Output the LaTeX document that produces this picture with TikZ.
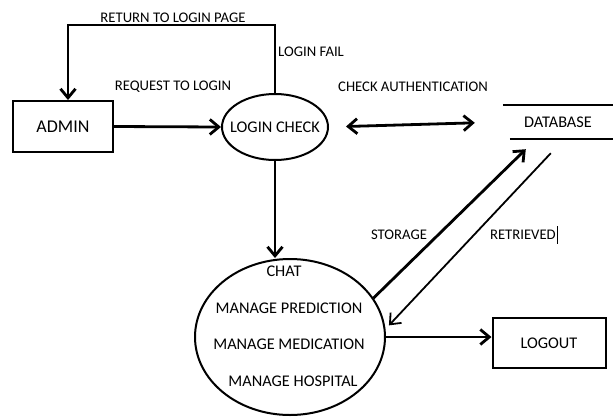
\documentclass[tikz,border=0pt]{standalone}
\usepackage{fontspec}
\setmainfont{Carlito}
\usetikzlibrary{arrows.meta,shapes.geometric}

\begin{document}
\begin{tikzpicture}[x=1pt,y=-1pt,
  >={Straight Barb[length=9pt,width=15pt]},
  box/.style={draw,line width=2pt,rectangle,inner sep=0pt},
  bubble/.style={draw,line width=2pt,ellipse,inner sep=0pt},
  flow/.style={->,line width=2.8pt},
  thinflow/.style={->,line width=1.8pt},
  tag/.style={font=\fontsize{14.7}{16}\selectfont,inner sep=0pt},
  item/.style={font=\fontsize{16.3}{18}\selectfont,inner sep=0pt}]
 \useasboundingbox (0,0) rectangle (613,416);
 % Admin, login check and the data store.
 \node (admin) [box,minimum width=100pt,minimum height=51pt,
  font=\fontsize{18}{20}\selectfont] at (63,126.5) {ADMIN};
 \node (lc) [bubble,minimum width=106pt,minimum height=66pt,
  label={[item]center:LOGIN CHECK}] at (275,127) {};
 \node (db) [item,minimum width=110pt,minimum height=34pt] at (558,122) {DATABASE};
 \draw[line width=2.2pt] (db.north west) -- (db.north east);
 \draw[line width=2.2pt] ([xshift=7pt]db.south west) -- (db.south east);
 % Second process and logout.
 \node (chat) [bubble,minimum width=190pt,minimum height=156pt] at (290,337) {};
 \node (it1) [item] at (284,271) {CHAT};
 \node (it2) [item] at (289,308) {MANAGE PREDICTION};
 \node (it3) [item] at (289,344) {MANAGE MEDICATION};
 \node (it4) [item] at (293,381) {MANAGE HOSPITAL};
 \node (logout) [box,minimum width=113pt,minimum height=50pt,item] at (549,343) {LOGOUT};
 % Login flows.
 \coordinate (turn) at (68,25);
 \draw[flow] (lc.north) |- (turn) -- ([xshift=5pt]admin.north);
 \draw[flow] (admin.east) -- (lc.west);
 \draw[flow,<->,shorten <=17pt,shorten >=28pt] (lc.east) -- (db.west);
 \draw[flow] (lc.south) -- (lc.south |- chat.north);
 % Data store flows.
 \draw[flow] (chat.25) -- ([shift={(23pt,-10pt)}]db.south west);
 \draw[thinflow] ([shift={(48pt,-14pt)}]db.south west) -- ([xshift=4pt]chat.7);
 \draw[flow] (chat.east) -- (chat.east -| logout.west);
 % Flow labels.
 \node (l1) [tag] at (173,18) {RETURN TO LOGIN PAGE};
 \node (l2) [tag,anchor=west] at (278,52) {LOGIN FAIL};
 \node (l3) [tag] at (173,87) {REQUEST TO LOGIN};
 \node (l4) [tag] at (413,87) {CHECK AUTHENTICATION};
 \node (l5) [tag] at (399,235) {STORAGE};
 \node (l6) [tag,anchor=east] at (556,235) {RETRIEVED};
 \draw[line width=1pt] (557,226) -- (557,244);
\end{tikzpicture}
\end{document}
